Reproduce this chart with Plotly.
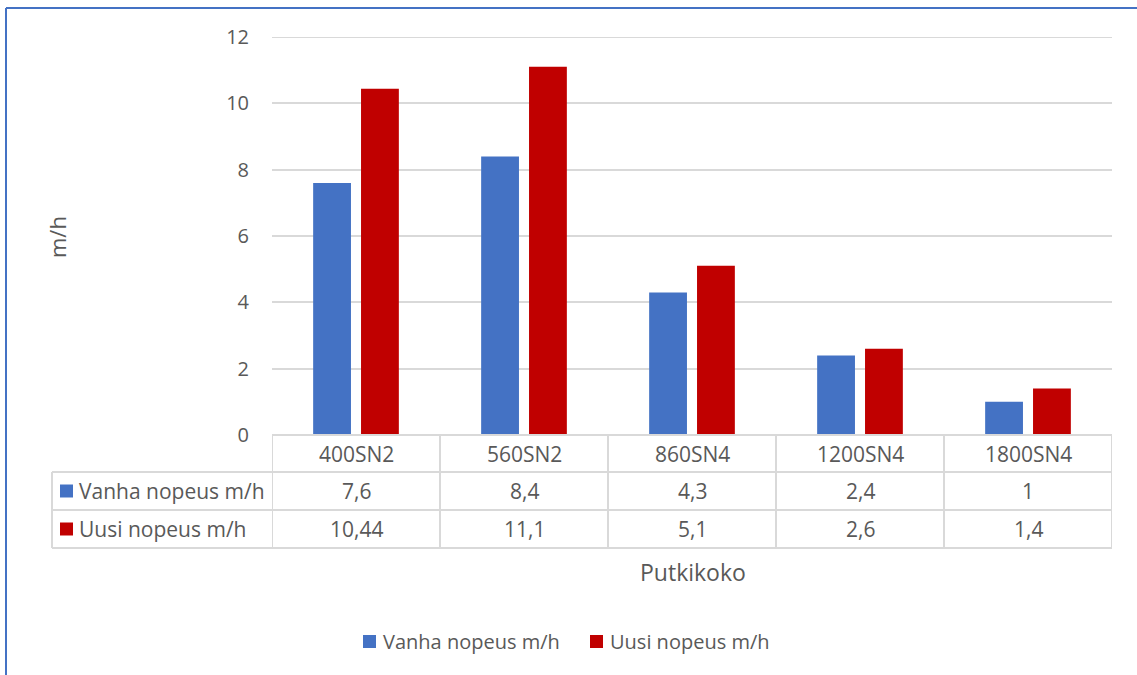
import plotly.graph_objects as go

# Pipe sizes and installation speeds (m/h)
categories = ["400SN2", "560SN2", "860SN4", "1200SN4", "1800SN4"]
old_speed = [7.6, 8.4, 4.3, 2.4, 1]
new_speed = [10.44, 11.1, 5.1, 2.6, 1.4]
series_names = ["Vanha nopeus m/h", "Uusi nopeus m/h"]
series_colors = ["#4472C4", "#C00000"]
y_ticks = [0, 2, 4, 6, 8, 10, 12]
x_title = "Putkikoko"
y_title = "m/h"

W, H = 1137, 675
PL, PR, PT, PB = 272, 1112, 37, 435  # plot area in pixels
FONT = "Open Sans"
TXT = "#595959"
GRID = "#D9D9D9"
FS = 20        # tick and legend text
FS_TABLE = 21  # data table text
FS_TITLE = 23  # axis titles


def px(x):
    return (x - PL) / (PR - PL)


def py(y):
    return (PB - y) / (PB - PT)


def fmt(v):
    return ("%g" % v).replace(".", ",")


fig = go.Figure()
for name, vals, col in zip(series_names, [old_speed, new_speed], series_colors):
    fig.add_trace(go.Bar(x=categories, y=vals, name=name, marker_color=col,
                         marker_line_width=0, showlegend=False))

shapes = []
annotations = []

# top gridline at the upper end of the value axis
shapes.append(dict(type="line", xref="paper", yref="y", x0=0, x1=1,
                   y0=y_ticks[-1], y1=y_ticks[-1], line=dict(color=GRID, width=2),
                   layer="below"))

# data table under the plot
row_lines = [435, 472, 510, 548]
line = dict(color=GRID, width=2)
for y in row_lines:
    x0 = 52 if y >= 472 else PL
    shapes.append(dict(type="line", xref="paper", yref="paper",
                       x0=px(x0), x1=px(PR), y0=py(y), y1=py(y), line=line))
n = len(categories)
for i in range(n + 1):
    shapes.append(dict(type="line", xref="x", yref="paper",
                       x0=i - 0.5, x1=i - 0.5, y0=py(435), y1=py(548), line=line))
shapes.append(dict(type="line", xref="paper", yref="paper",
                   x0=px(52), x1=px(52), y0=py(472), y1=py(548), line=line))

# header row: category names
for i, c in enumerate(categories):
    annotations.append(dict(x=i, xref="x", y=py(453.5), yref="paper", text=c,
                            showarrow=False, xanchor="center", yanchor="middle",
                            font=dict(family=FONT, size=FS_TABLE, color=TXT)))

# series rows: key swatch, name and values
for r, (name, vals, col) in enumerate(zip(series_names, [old_speed, new_speed], series_colors)):
    yc = 491 + r * 38
    shapes.append(dict(type="rect", xref="paper", yref="paper",
                       x0=px(60), x1=px(73), y0=py(yc - 6.5), y1=py(yc + 6.5),
                       fillcolor=col, line=dict(width=0)))
    annotations.append(dict(x=px(77), xref="paper", y=py(yc), yref="paper", text=name,
                            showarrow=False, xanchor="left", yanchor="middle",
                            font=dict(family=FONT, size=FS_TABLE, color=TXT)))
    for i, v in enumerate(vals):
        annotations.append(dict(x=i, xref="x", y=py(yc), yref="paper", text=fmt(v),
                                showarrow=False, xanchor="center", yanchor="middle",
                                font=dict(family=FONT, size=FS_TABLE, color=TXT)))

# axis titles
annotations.append(dict(x=px(693), xref="paper", y=py(572), yref="paper", text=x_title,
                        showarrow=False, xanchor="center", yanchor="middle",
                        font=dict(family=FONT, size=FS_TITLE, color=TXT)))
annotations.append(dict(x=px(57), xref="paper", y=py(237), yref="paper", text=y_title,
                        textangle=-90, showarrow=False, xanchor="center", yanchor="middle",
                        font=dict(family=FONT, size=22, color=TXT)))

# legend at the bottom
leg_x = [363, 590]
for name, col, lx in zip(series_names, series_colors, leg_x):
    shapes.append(dict(type="rect", xref="paper", yref="paper",
                       x0=px(lx), x1=px(lx + 13), y0=py(635), y1=py(648),
                       fillcolor=col, line=dict(width=0)))
    annotations.append(dict(x=px(lx + 18), xref="paper", y=py(641.5), yref="paper", text=name,
                            showarrow=False, xanchor="left", yanchor="middle",
                            font=dict(family=FONT, size=FS, color=TXT)))

# frame border (top and left)
border = dict(color="#4472C4", width=2)
shapes.append(dict(type="line", xref="paper", yref="paper",
                   x0=px(6), x1=px(W), y0=py(8), y1=py(8), line=border))
shapes.append(dict(type="line", xref="paper", yref="paper",
                   x0=px(6), x1=px(6), y0=py(8), y1=py(H), line=border))

fig.update_layout(
    width=W, height=H,
    margin=dict(l=PL, r=W - PR, t=PT, b=H - PB, pad=0),
    paper_bgcolor="white", plot_bgcolor="white",
    barmode="group", bargap=0.43, bargroupgap=0.21,
    font=dict(family=FONT, size=FS, color=TXT),
    shapes=shapes, annotations=annotations,
    xaxis=dict(showticklabels=False, showgrid=False, zeroline=False, showline=False,
               range=[-0.5, n - 0.5], fixedrange=True),
    yaxis=dict(range=[0, 12], tickvals=y_ticks, showgrid=True, gridcolor=GRID, gridwidth=2,
               zeroline=False, showline=False, ticks="", ticklabelstandoff=22,
               tickfont=dict(family=FONT, size=FS, color=TXT), fixedrange=True),
)

fig.write_html("out.html")
